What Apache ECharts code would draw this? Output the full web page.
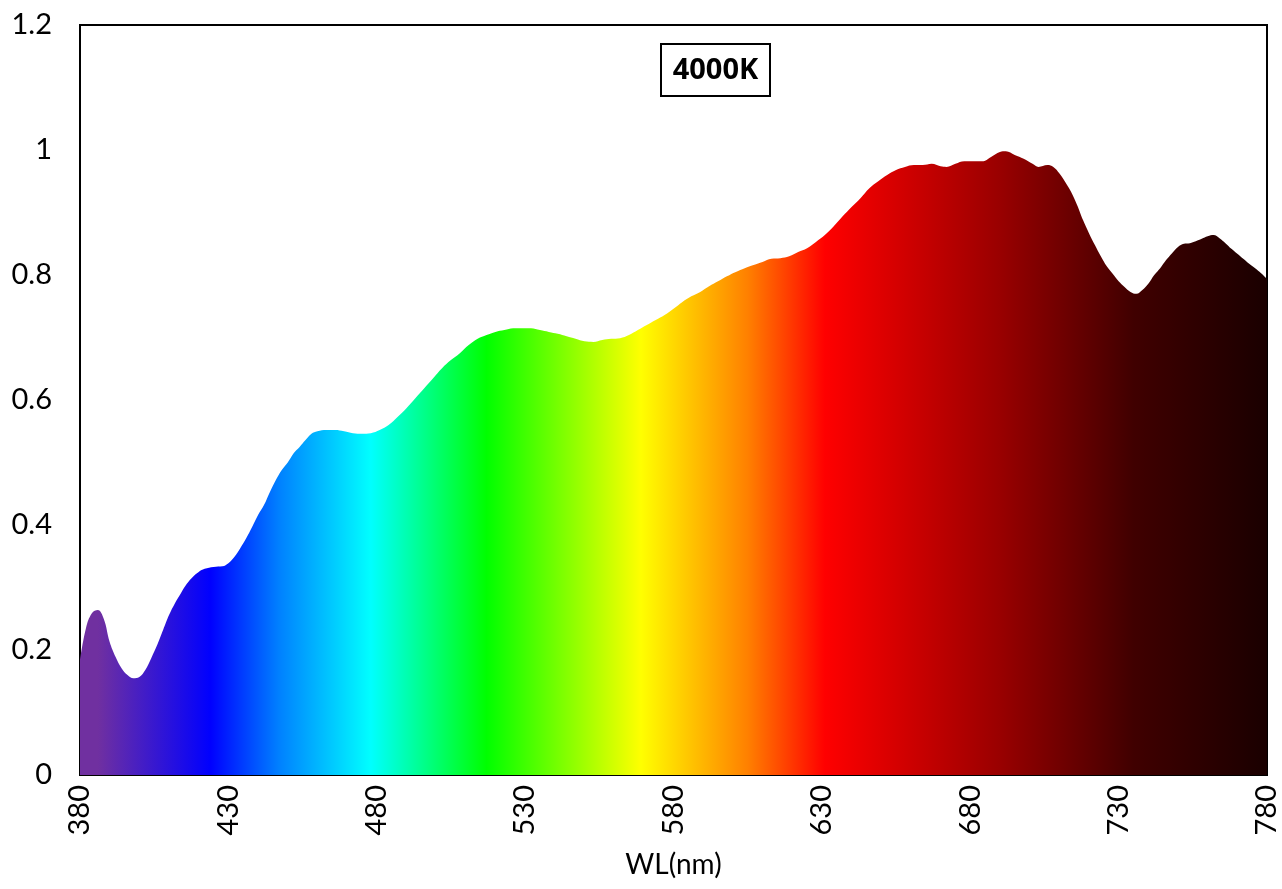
<!DOCTYPE html>
<html>
<head>
<meta charset="utf-8">
<script src="https://cdn.jsdelivr.net/npm/echarts@6/dist/echarts.min.js"></script>
<style>html,body{margin:0;padding:0;background:#fff}#c{width:1282px;height:889px}</style>
</head>
<body>
<div id="c"></div>
<script>
const wavelengths = [380,382,384,386,388,390,392,394,396,398,400,402,404,406,408,410,412,414,416,418,420,422,425,428,430,432,434,436,438,440,442,444,446,448,450,452,454,456,458,460,463,466,469,472,475,478,481,484,487,490,493,496,499,502,505,508,511,514,517,520,523,526,529,532,535,538,541,544,547,550,553,556,559,562,565,568,571,574,577,580,583,586,589,592,595,598,601,604,607,610,613,616,619,622,625,628,631,634,637,640,643,646,649,652,655,658,661,664,667,670,672,675,678,681,684,687,690,692,695,698,701,703,706,708,710,712,714,716,718,720,722,724,726,728,730,732,734,736,738,740,742,744,746,748,750,752,754,756,758,760,762,764,766,768,770,772,774,776,778,780];
const intensity = [0.184,0.235,0.259,0.264,0.250,0.213,0.189,0.171,0.160,0.155,0.157,0.168,0.187,0.208,0.232,0.256,0.275,0.291,0.306,0.317,0.325,0.330,0.333,0.334,0.339,0.349,0.363,0.379,0.397,0.416,0.432,0.453,0.472,0.488,0.500,0.515,0.525,0.536,0.546,0.550,0.552,0.552,0.550,0.547,0.546,0.547,0.552,0.560,0.573,0.587,0.603,0.619,0.635,0.651,0.664,0.675,0.688,0.698,0.704,0.709,0.712,0.715,0.715,0.715,0.712,0.709,0.706,0.702,0.698,0.694,0.693,0.696,0.698,0.699,0.704,0.712,0.720,0.728,0.736,0.746,0.757,0.766,0.773,0.782,0.790,0.798,0.805,0.811,0.816,0.821,0.826,0.827,0.830,0.837,0.843,0.853,0.864,0.878,0.894,0.909,0.923,0.939,0.950,0.960,0.968,0.973,0.976,0.976,0.978,0.974,0.973,0.978,0.982,0.982,0.982,0.989,0.997,0.998,0.992,0.986,0.978,0.973,0.976,0.973,0.963,0.949,0.933,0.912,0.888,0.867,0.848,0.830,0.814,0.802,0.790,0.781,0.773,0.770,0.776,0.786,0.800,0.811,0.824,0.835,0.845,0.850,0.851,0.854,0.858,0.862,0.864,0.859,0.851,0.842,0.834,0.826,0.818,0.811,0.803,0.794];
const yTicks = [0, 0.2, 0.4, 0.6, 0.8, 1, 1.2];
const xTicks = [380, 430, 480, 530, 580, 630, 680, 730, 780];
const chartLabel = '4000K';
const xAxisName = 'WL(nm)';

const chart = echarts.init(document.getElementById('c'), null, {renderer: 'canvas'});
const data = wavelengths.map((w, i) => [w, intensity[i]]);
const FONT = 'Lato';
const stops = [
  [0.000, '#7030A0'], [0.015, '#7030A0'], [0.110, '#0000FF'], [0.1675, '#0080FF'],
  [0.245, '#00FFFF'], [0.3425, '#00FF00'], [0.4725, '#FFFF00'], [0.5625, '#FF8000'],
  [0.6275, '#FF0000'], [0.775, '#990000'], [0.8875, '#400000'], [1.000, '#1A0000']
].map(s => ({offset: s[0], color: s[1]}));

chart.setOption({
  animation: false,
  backgroundColor: '#fff',
  grid: {left: 80, right: 15, top: 25, bottom: 114, show: true, borderColor: '#000', borderWidth: 2, backgroundColor: 'transparent'},
  graphic: [{
    type: 'group', left: 660, top: 43,
    children: [
      {type: 'rect', shape: {x: 0, y: 0, width: 109, height: 52}, style: {fill: '#fff', stroke: '#000', lineWidth: 2}},
      {type: 'text', x: 54.5, y: 27, style: {text: chartLabel, fill: '#000', font: 'bold 29px "Open Sans"', textAlign: 'center', textVerticalAlign: 'middle'}}
    ]
  }],
  xAxis: {
    type: 'value', min: xTicks[0], max: xTicks[xTicks.length - 1], interval: 50,
    name: xAxisName, nameLocation: 'middle', nameGap: 76,
    nameTextStyle: {fontFamily: FONT, fontSize: 28, color: '#000'},
    axisLine: {show: true, lineStyle: {color: '#000', width: 2}},
    axisTick: {show: false},
    splitLine: {show: false},
    axisLabel: {rotate: 90, color: '#000', fontFamily: FONT, fontSize: 29, margin: 10,
      formatter: v => xTicks.includes(v) ? String(v) : ''}
  },
  yAxis: {
    type: 'value', min: 0, max: yTicks[yTicks.length - 1], interval: 0.2,
    axisLine: {show: true, lineStyle: {color: '#000', width: 2}},
    axisTick: {show: false},
    splitLine: {show: false},
    axisLabel: {color: '#000', fontFamily: FONT, fontSize: 29, margin: 28,
      formatter: v => String(Math.round(v * 10) / 10)}
  },
  series: [{
    type: 'line', data: data, smooth: 0.4, showSymbol: false, symbol: 'none',
    lineStyle: {width: 0},
    areaStyle: {opacity: 1, color: new echarts.graphic.LinearGradient(0, 0, 1, 0, stops)},
    z: 1
  }]
});
</script>
</body>
</html>
